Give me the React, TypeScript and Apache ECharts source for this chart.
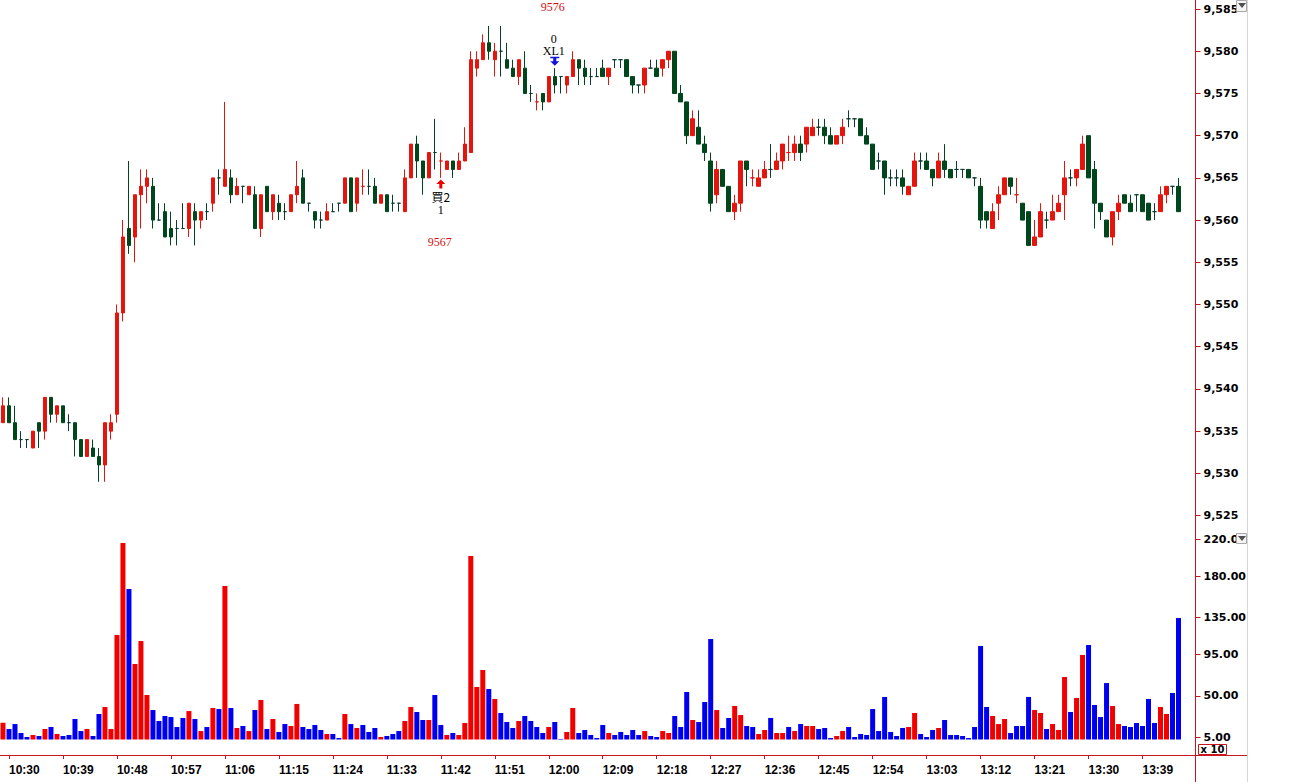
import React, { useEffect, useRef } from 'react';
import * as echarts from 'echarts';

// ---- data ----
const START_MINUTE = 10 * 60 + 29; // first bar 10:29, one bar per minute
const BAR_COUNT = 197;
const PAD_COUNT = 2;

const opens = [
  9536, 9538, 9536, 9534, 9534, 9533, 9536, 9535, 9539, 9537,
  9538, 9536, 9536, 9534, 9532, 9533, 9532, 9531, 9535, 9537,
  9549, 9559, 9558, 9563, 9564, 9564, 9560, 9561, 9559, 9559,
  9559, 9559, 9561, 9560, 9561, 9562, 9565, 9564, 9565, 9563,
  9564, 9563, 9563, 9559, 9564, 9561, 9562, 9561, 9561, 9563,
  9565, 9562, 9561, 9560, 9560, 9561, 9562, 9562, 9565, 9562,
  9564, 9564, 9564, 9562, 9563, 9562, 9562, 9561, 9565, 9569,
  9567, 9565, 9568, 9567, 9566, 9567, 9566, 9567, 9568, 9578,
  9579, 9581, 9579, 9580, 9579, 9578, 9577, 9578, 9575, 9574,
  9575, 9574, 9577, 9577, 9576, 9577, 9579, 9578, 9577, 9577,
  9578, 9577, 9579, 9579, 9579, 9577, 9576, 9576, 9578, 9578,
  9578, 9579, 9580, 9575, 9574, 9570, 9571, 9569, 9567, 9563,
  9566, 9564, 9561, 9562, 9567, 9565, 9564, 9565, 9566, 9566,
  9567, 9568, 9568, 9569, 9569, 9570, 9571, 9571, 9570, 9569,
  9570, 9572, 9572, 9572, 9570, 9569, 9567, 9567, 9565, 9565,
  9565, 9563, 9564, 9567, 9567, 9566, 9565, 9567, 9566, 9566,
  9566, 9566, 9565, 9564, 9561, 9559, 9562, 9563, 9565, 9563,
  9562, 9561, 9557, 9558, 9560, 9560, 9561, 9563, 9565, 9565,
  9566, 9570, 9566, 9562, 9560, 9558, 9561, 9563, 9562, 9563,
  9563, 9562, 9561, 9561, 9563, 9564, 9564,
];
const highs = [
  9539, 9539, 9538, 9535, 9534, 9535, 9536, 9539, 9539, 9538,
  9538, 9537, 9536, 9534, 9534, 9534, 9533, 9536, 9537, 9550,
  9560, 9567, 9563, 9566, 9566, 9565, 9562, 9562, 9561, 9560,
  9562, 9562, 9562, 9561, 9562, 9565, 9566, 9574, 9566, 9565,
  9564, 9564, 9564, 9563, 9564, 9563, 9563, 9562, 9563, 9567,
  9566, 9562, 9561, 9561, 9562, 9562, 9562, 9565, 9565, 9565,
  9566, 9566, 9565, 9563, 9563, 9563, 9562, 9566, 9569, 9570,
  9567, 9568, 9572, 9568, 9567, 9567, 9568, 9571, 9580, 9580,
  9582, 9583, 9581, 9583, 9581, 9579, 9579, 9580, 9576, 9575,
  9575, 9577, 9578, 9577, 9577, 9580, 9579, 9579, 9578, 9578,
  9579, 9578, 9579, 9579, 9579, 9577, 9576, 9578, 9579, 9579,
  9579, 9580, 9580, 9576, 9574, 9573, 9573, 9570, 9568, 9567,
  9566, 9564, 9563, 9567, 9567, 9566, 9566, 9567, 9569, 9568,
  9569, 9570, 9570, 9570, 9571, 9572, 9572, 9572, 9571, 9570,
  9572, 9573, 9572, 9572, 9571, 9569, 9568, 9567, 9566, 9566,
  9566, 9564, 9568, 9568, 9568, 9566, 9568, 9569, 9566, 9567,
  9566, 9566, 9565, 9565, 9561, 9562, 9564, 9565, 9565, 9565,
  9562, 9561, 9560, 9562, 9561, 9563, 9563, 9567, 9566, 9566,
  9570, 9570, 9567, 9562, 9560, 9561, 9563, 9563, 9563, 9563,
  9563, 9562, 9562, 9564, 9564, 9564, 9565,
];
const lows = [
  9536, 9536, 9534, 9533, 9533, 9533, 9533, 9534, 9536, 9536,
  9536, 9535, 9532, 9532, 9532, 9532, 9529, 9529, 9534, 9536,
  9548, 9556, 9555, 9559, 9562, 9559, 9560, 9558, 9557, 9557,
  9559, 9558, 9557, 9559, 9560, 9561, 9563, 9564, 9562, 9563,
  9562, 9563, 9559, 9558, 9561, 9560, 9560, 9560, 9561, 9562,
  9562, 9561, 9559, 9559, 9560, 9561, 9561, 9562, 9561, 9561,
  9563, 9563, 9562, 9562, 9561, 9561, 9561, 9561, 9565, 9565,
  9563, 9565, 9566, 9565, 9566, 9565, 9566, 9567, 9568, 9577,
  9579, 9579, 9577, 9577, 9578, 9577, 9576, 9575, 9574, 9573,
  9573, 9574, 9575, 9575, 9575, 9577, 9576, 9576, 9576, 9577,
  9577, 9576, 9578, 9578, 9577, 9575, 9575, 9575, 9578, 9577,
  9577, 9578, 9575, 9574, 9569, 9570, 9569, 9567, 9561, 9562,
  9564, 9561, 9560, 9561, 9564, 9564, 9564, 9565, 9565, 9566,
  9566, 9567, 9567, 9567, 9568, 9570, 9570, 9569, 9569, 9569,
  9569, 9571, 9571, 9570, 9569, 9566, 9566, 9563, 9564, 9564,
  9563, 9563, 9564, 9566, 9566, 9564, 9565, 9565, 9565, 9565,
  9565, 9565, 9564, 9559, 9559, 9559, 9560, 9563, 9563, 9562,
  9560, 9557, 9557, 9558, 9559, 9560, 9561, 9560, 9564, 9564,
  9566, 9565, 9559, 9560, 9558, 9557, 9560, 9562, 9561, 9561,
  9561, 9560, 9560, 9561, 9562, 9563, 9561,
];
const closes = [
  9538, 9536, 9534, 9534, 9534, 9535, 9535, 9539, 9537, 9538,
  9536, 9536, 9534, 9532, 9534, 9532, 9531, 9536, 9536, 9549,
  9558, 9557, 9563, 9564, 9565, 9560, 9560, 9558, 9558, 9559,
  9559, 9562, 9560, 9561, 9561, 9565, 9565, 9566, 9563, 9564,
  9564, 9564, 9559, 9563, 9561, 9563, 9561, 9561, 9563, 9564,
  9562, 9562, 9560, 9560, 9561, 9561, 9562, 9565, 9561, 9565,
  9564, 9564, 9562, 9563, 9561, 9562, 9562, 9565, 9569, 9567,
  9565, 9568, 9568, 9567, 9567, 9566, 9567, 9569, 9579, 9579,
  9581, 9580, 9580, 9580, 9578, 9577, 9579, 9575, 9575, 9574,
  9574, 9577, 9576, 9577, 9577, 9579, 9578, 9577, 9577, 9577,
  9577, 9578, 9579, 9579, 9577, 9576, 9576, 9578, 9578, 9577,
  9579, 9580, 9575, 9574, 9570, 9572, 9569, 9568, 9562, 9566,
  9564, 9561, 9562, 9567, 9566, 9565, 9565, 9566, 9566, 9567,
  9569, 9568, 9569, 9568, 9571, 9571, 9571, 9570, 9569, 9570,
  9571, 9572, 9572, 9570, 9569, 9566, 9567, 9565, 9565, 9565,
  9564, 9564, 9567, 9567, 9566, 9565, 9567, 9566, 9565, 9566,
  9566, 9565, 9565, 9560, 9560, 9561, 9563, 9565, 9564, 9563,
  9560, 9557, 9558, 9561, 9560, 9561, 9562, 9565, 9565, 9566,
  9569, 9565, 9562, 9561, 9558, 9561, 9562, 9562, 9561, 9563,
  9561, 9560, 9561, 9563, 9564, 9564, 9561,
];
const volumes = [
  20.9, 14.0, 19.4, 9.7, 5.3, 7.5, 6.4, 14.0, 16.2, 8.6,
  6.4, 7.5, 24.9, 11.8, 14.0, 6.4, 30.3, 37.9, 14.0, 116.1,
  216.0, 166.0, 84.6, 109.5, 50.9, 34.6, 22.7, 28.1, 27.0, 16.2,
  26.0, 33.5, 24.9, 11.8, 16.2, 36.8, 35.7, 169.3, 36.8, 15.1,
  17.3, 11.8, 34.6, 45.5, 14.0, 24.9, 10.8, 19.4, 17.3, 41.2,
  16.2, 14.0, 18.4, 12.9, 8.6, 8.6, 4.2, 30.3, 19.4, 15.1,
  18.4, 10.8, 15.1, 5.3, 6.4, 8.6, 11.8, 22.7, 37.9, 32.5,
  23.8, 23.8, 50.9, 18.4, 7.5, 9.7, 7.5, 20.5, 201.9, 59.6,
  78.1, 57.4, 46.6, 31.4, 21.6, 15.1, 22.7, 28.1, 22.7, 16.2,
  9.7, 16.2, 21.6, 3.2, 10.8, 36.8, 9.7, 12.9, 7.5, 4.2,
  18.4, 9.7, 7.5, 10.8, 7.5, 12.9, 7.5, 11.8, 6.4, 5.3,
  11.8, 9.7, 28.1, 16.2, 54.2, 23.8, 21.6, 43.3, 111.7, 34.6,
  15.1, 26.0, 39.0, 29.2, 17.3, 16.2, 8.6, 12.9, 26.0, 9.7,
  9.7, 16.2, 11.8, 19.4, 17.3, 17.3, 14.0, 15.1, 4.2, 6.4,
  11.8, 16.2, 5.3, 8.6, 7.5, 35.7, 11.8, 48.8, 10.8, 6.4,
  15.1, 16.2, 31.4, 8.6, 5.3, 12.9, 15.1, 23.8, 7.5, 7.5,
  6.4, 4.2, 16.2, 104.1, 37.9, 28.1, 19.4, 24.9, 9.7, 17.3,
  17.3, 48.8, 34.6, 31.4, 14.0, 19.4, 12.9, 70.5, 32.5, 47.7,
  94.4, 105.2, 40.1, 27.0, 63.9, 39.0, 19.4, 17.3, 16.2, 20.5,
  17.3, 46.6, 20.5, 37.9, 30.3, 53.1, 134.5,
];
const redDojiBars = [60, 73, 89, 125, 131, 169];
const priceTicks = [9525, 9530, 9535, 9540, 9545, 9550, 9555, 9560, 9565, 9570, 9575, 9580, 9585];
const volumeTicks = [5, 50, 95, 135, 180, 220];
const LABEL_EVERY = 9;
const LABEL_FIRST = 1;

const buySignal = { bar: 73, name: '買2', qty: '1', price: '9567' };
const exitSignal = { bar: 92, name: 'XL1', qty: '0', price: '9576' };

// ---- styles ----
const UP = '#e5140c';
const DOWN = '#00461c';
const DOJI_DARK = '#0b3a2e';
const VOL_UP = '#f20000';
const VOL_DOWN = '#0000f0';
const AXIS_RED = '#c8161e';
const LABEL_FONT = '"DejaVu Sans", Verdana, sans-serif';

function pad2(n: number) {
  return n < 10 ? '0' + n : String(n);
}

const categories: string[] = [];
for (let i = 0; i < BAR_COUNT + PAD_COUNT; i++) {
  if (i < BAR_COUNT) {
    const m = START_MINUTE + i;
    categories.push(pad2(Math.floor(m / 60)) + ':' + pad2(m % 60));
  } else {
    categories.push('');
  }
}

function isLabelIndex(idx: number) {
  return idx < BAR_COUNT && idx >= LABEL_FIRST && (idx - LABEL_FIRST) % LABEL_EVERY === 0;
}

export default function App() {
  const ref = useRef<HTMLDivElement>(null);

  useEffect(() => {
    if (!ref.current) return;
    const chart = echarts.init(ref.current, undefined, { renderer: 'svg' });

    const candleData = opens.map((o, i) => {
      const item: any = { value: [o, closes[i], lows[i], highs[i]] };
      if (o === closes[i]) {
        const c = redDojiBars.indexOf(i) >= 0 ? UP : DOJI_DARK;
        item.itemStyle = { color: c, color0: c, borderColor: c, borderColor0: c, borderColorDoji: c };
      }
      return item;
    });

    const volumeData = volumes.map((v, i) => ({
      value: v,
      itemStyle: { color: closes[i] > opens[i] ? VOL_UP : VOL_DOWN },
    }));

    const txt = (text: string, color: string, font: string, size: number) => ({
      show: true,
      formatter: text,
      color,
      fontFamily: font,
      fontSize: size,
      position: 'inside',
    });

    const invisible = { color: 'rgba(0,0,0,0)' };
    const serif = '"Liberation Serif", "Noto Sans CJK TC", serif';

    const markPoints: any[] = [
      // buy signal, anchored below the bar's low
      {
        coord: [buySignal.bar, lows[buySignal.bar]],
        symbol: 'path://M4.5,0 L9,4.5 L6,4.5 L6,9 L3,9 L3,4.5 L0,4.5 Z',
        symbolSize: [9, 9],
        symbolOffset: [0, 6],
        itemStyle: { color: '#f00000' },
        label: { show: false },
      },
      {
        coord: [buySignal.bar, lows[buySignal.bar]],
        symbol: 'circle', symbolSize: 1, itemStyle: invisible,
        label: { ...txt(buySignal.name, '#000', '"Noto Sans CJK TC", serif', 12), offset: [0, 19] },
      },
      {
        coord: [buySignal.bar, lows[buySignal.bar]],
        symbol: 'circle', symbolSize: 1, itemStyle: invisible,
        label: { ...txt(buySignal.qty, '#000', serif, 12), offset: [0, 32] },
      },
      {
        coord: [buySignal.bar, lows[buySignal.bar]],
        symbol: 'circle', symbolSize: 1, itemStyle: invisible,
        label: { ...txt(buySignal.price, '#d01010', serif, 12), offset: [-1, 64] },
      },
      // exit signal, anchored above the bar's high
      {
        coord: [exitSignal.bar, highs[exitSignal.bar]],
        symbol: 'path://M0,0 L9,0 L9,1.5 L6,1.5 L6,4.5 L9,4.5 L4.5,9 L0,4.5 L3,4.5 L3,1.5 L0,1.5 Z',
        symbolSize: [9, 9],
        symbolOffset: [0, -7],
        itemStyle: { color: '#1010e0' },
        label: { show: false },
      },
      {
        coord: [exitSignal.bar, highs[exitSignal.bar]],
        symbol: 'circle', symbolSize: 1, itemStyle: invisible,
        label: { ...txt(exitSignal.name, '#000', serif, 12), offset: [-1, -17] },
      },
      {
        coord: [exitSignal.bar, highs[exitSignal.bar]],
        symbol: 'circle', symbolSize: 1, itemStyle: invisible,
        label: { ...txt(exitSignal.qty, '#000', serif, 12), offset: [-1, -29] },
      },
      {
        coord: [exitSignal.bar, highs[exitSignal.bar]],
        symbol: 'circle', symbolSize: 1, itemStyle: invisible,
        label: { ...txt(exitSignal.price, '#d01010', serif, 12), offset: [-2, -61] },
      },
    ];

    const axisLabelStyle = {
      color: '#000',
      fontFamily: LABEL_FONT,
      fontWeight: 'bold' as const,
      fontSize: 11,
    };

    const option: any = {
      animation: false,
      backgroundColor: '#ffffff',
      grid: [
        { left: -0.5, top: 0, width: 1194, height: 530 },
        { left: -0.5, top: 530, width: 1194, height: 209.5 },
      ],
      xAxis: [
        {
          type: 'category', gridIndex: 0, data: categories, boundaryGap: true,
          axisLine: { show: false }, axisTick: { show: false }, axisLabel: { show: false },
          splitLine: { show: false },
        },
        {
          type: 'category', gridIndex: 1, data: categories, boundaryGap: true,
          offset: 15.5,
          axisLine: { show: false },
          axisTick: {
            show: true, alignWithLabel: true, length: 4,
            interval: (idx: number) => isLabelIndex(idx),
            lineStyle: { color: AXIS_RED, width: 1 },
          },
          axisLabel: {
            show: true, interval: (idx: number) => isLabelIndex(idx),
            align: 'left', margin: 9,
            color: '#000', fontFamily: '"Liberation Sans", Arial, sans-serif',
            fontWeight: 'bold', fontSize: 12,
          },
          splitLine: { show: false },
        },
      ],
      yAxis: [
        {
          type: 'value', gridIndex: 0, position: 'right', offset: 2,
          min: 9523.29, max: 9586.07, scale: true,
          axisLine: { show: false },
          axisTick: { show: true, length: 5, customValues: priceTicks, lineStyle: { color: AXIS_RED } },
          axisLabel: {
            show: true, customValues: priceTicks, margin: 8,
            formatter: (v: number) => v.toLocaleString('en-US'),
            ...axisLabelStyle,
          },
          splitLine: { show: false },
        },
        {
          type: 'value', gridIndex: 1, position: 'right', offset: 2,
          min: 2.61, max: 230.08,
          axisLine: { show: false },
          axisTick: { show: true, length: 5, customValues: volumeTicks, lineStyle: { color: AXIS_RED } },
          axisLabel: {
            show: true, customValues: volumeTicks, margin: 8,
            formatter: (v: number) => v.toFixed(2),
            ...axisLabelStyle,
          },
          splitLine: { show: false },
        },
      ],
      series: [
        {
          type: 'candlestick', xAxisIndex: 0, yAxisIndex: 0,
          barWidth: 4,
          data: candleData,
          itemStyle: {
            color: UP, color0: DOWN, borderColor: UP, borderColor0: DOWN,
            borderColorDoji: DOJI_DARK, borderWidth: 1,
          },
          markPoint: { data: markPoints, animation: false },
        },
        {
          type: 'bar', xAxisIndex: 1, yAxisIndex: 1,
          barWidth: 5, clip: true,
          data: volumeData,
        },
      ],
      graphic: [
        { type: 'line', shape: { x1: 1195.5, y1: 0, x2: 1195.5, y2: 782 }, style: { stroke: AXIS_RED, lineWidth: 1 }, z: 10 },
        { type: 'line', shape: { x1: 0, y1: 755.5, x2: 1247, y2: 755.5 }, style: { stroke: AXIS_RED, lineWidth: 1 }, z: 10 },
        { type: 'line', shape: { x1: 1247.5, y1: 0, x2: 1247.5, y2: 782 }, style: { stroke: '#d6d6d6', lineWidth: 1 }, z: 10 },
        { type: 'rect', shape: { x: 1236.5, y: 0.5, width: 10, height: 11 }, style: { fill: '#f4f4f4', stroke: '#a8a8a8', lineWidth: 1 }, z: 11 },
        { type: 'polygon', shape: { points: [[1238, 3], [1246, 3], [1242, 8]] }, style: { fill: '#505050' }, z: 12 },
        { type: 'rect', shape: { x: 1236.5, y: 533.5, width: 10, height: 10 }, style: { fill: '#f4f4f4', stroke: '#a8a8a8', lineWidth: 1 }, z: 11 },
        { type: 'polygon', shape: { points: [[1238, 536], [1246, 536], [1242, 541]] }, style: { fill: '#505050' }, z: 12 },
        { type: 'rect', shape: { x: 1198.5, y: 744.5, width: 28, height: 10 }, style: { fill: '#ffffff', stroke: AXIS_RED, lineWidth: 1 }, z: 11 },
        { type: 'text', x: 1212.5, y: 749.5, style: { text: 'x 10', fill: '#000', font: 'bold 10px "DejaVu Sans", sans-serif', textAlign: 'center', textVerticalAlign: 'middle' }, z: 12 },
      ],
    };

    chart.setOption(option);
    return () => {
      chart.dispose();
    };
  }, []);

  return (
    <div
      ref={ref}
      style={{ position: 'absolute', left: 0, top: 0, width: 1296, height: 782, background: '#fff' }}
    />
  );
}
